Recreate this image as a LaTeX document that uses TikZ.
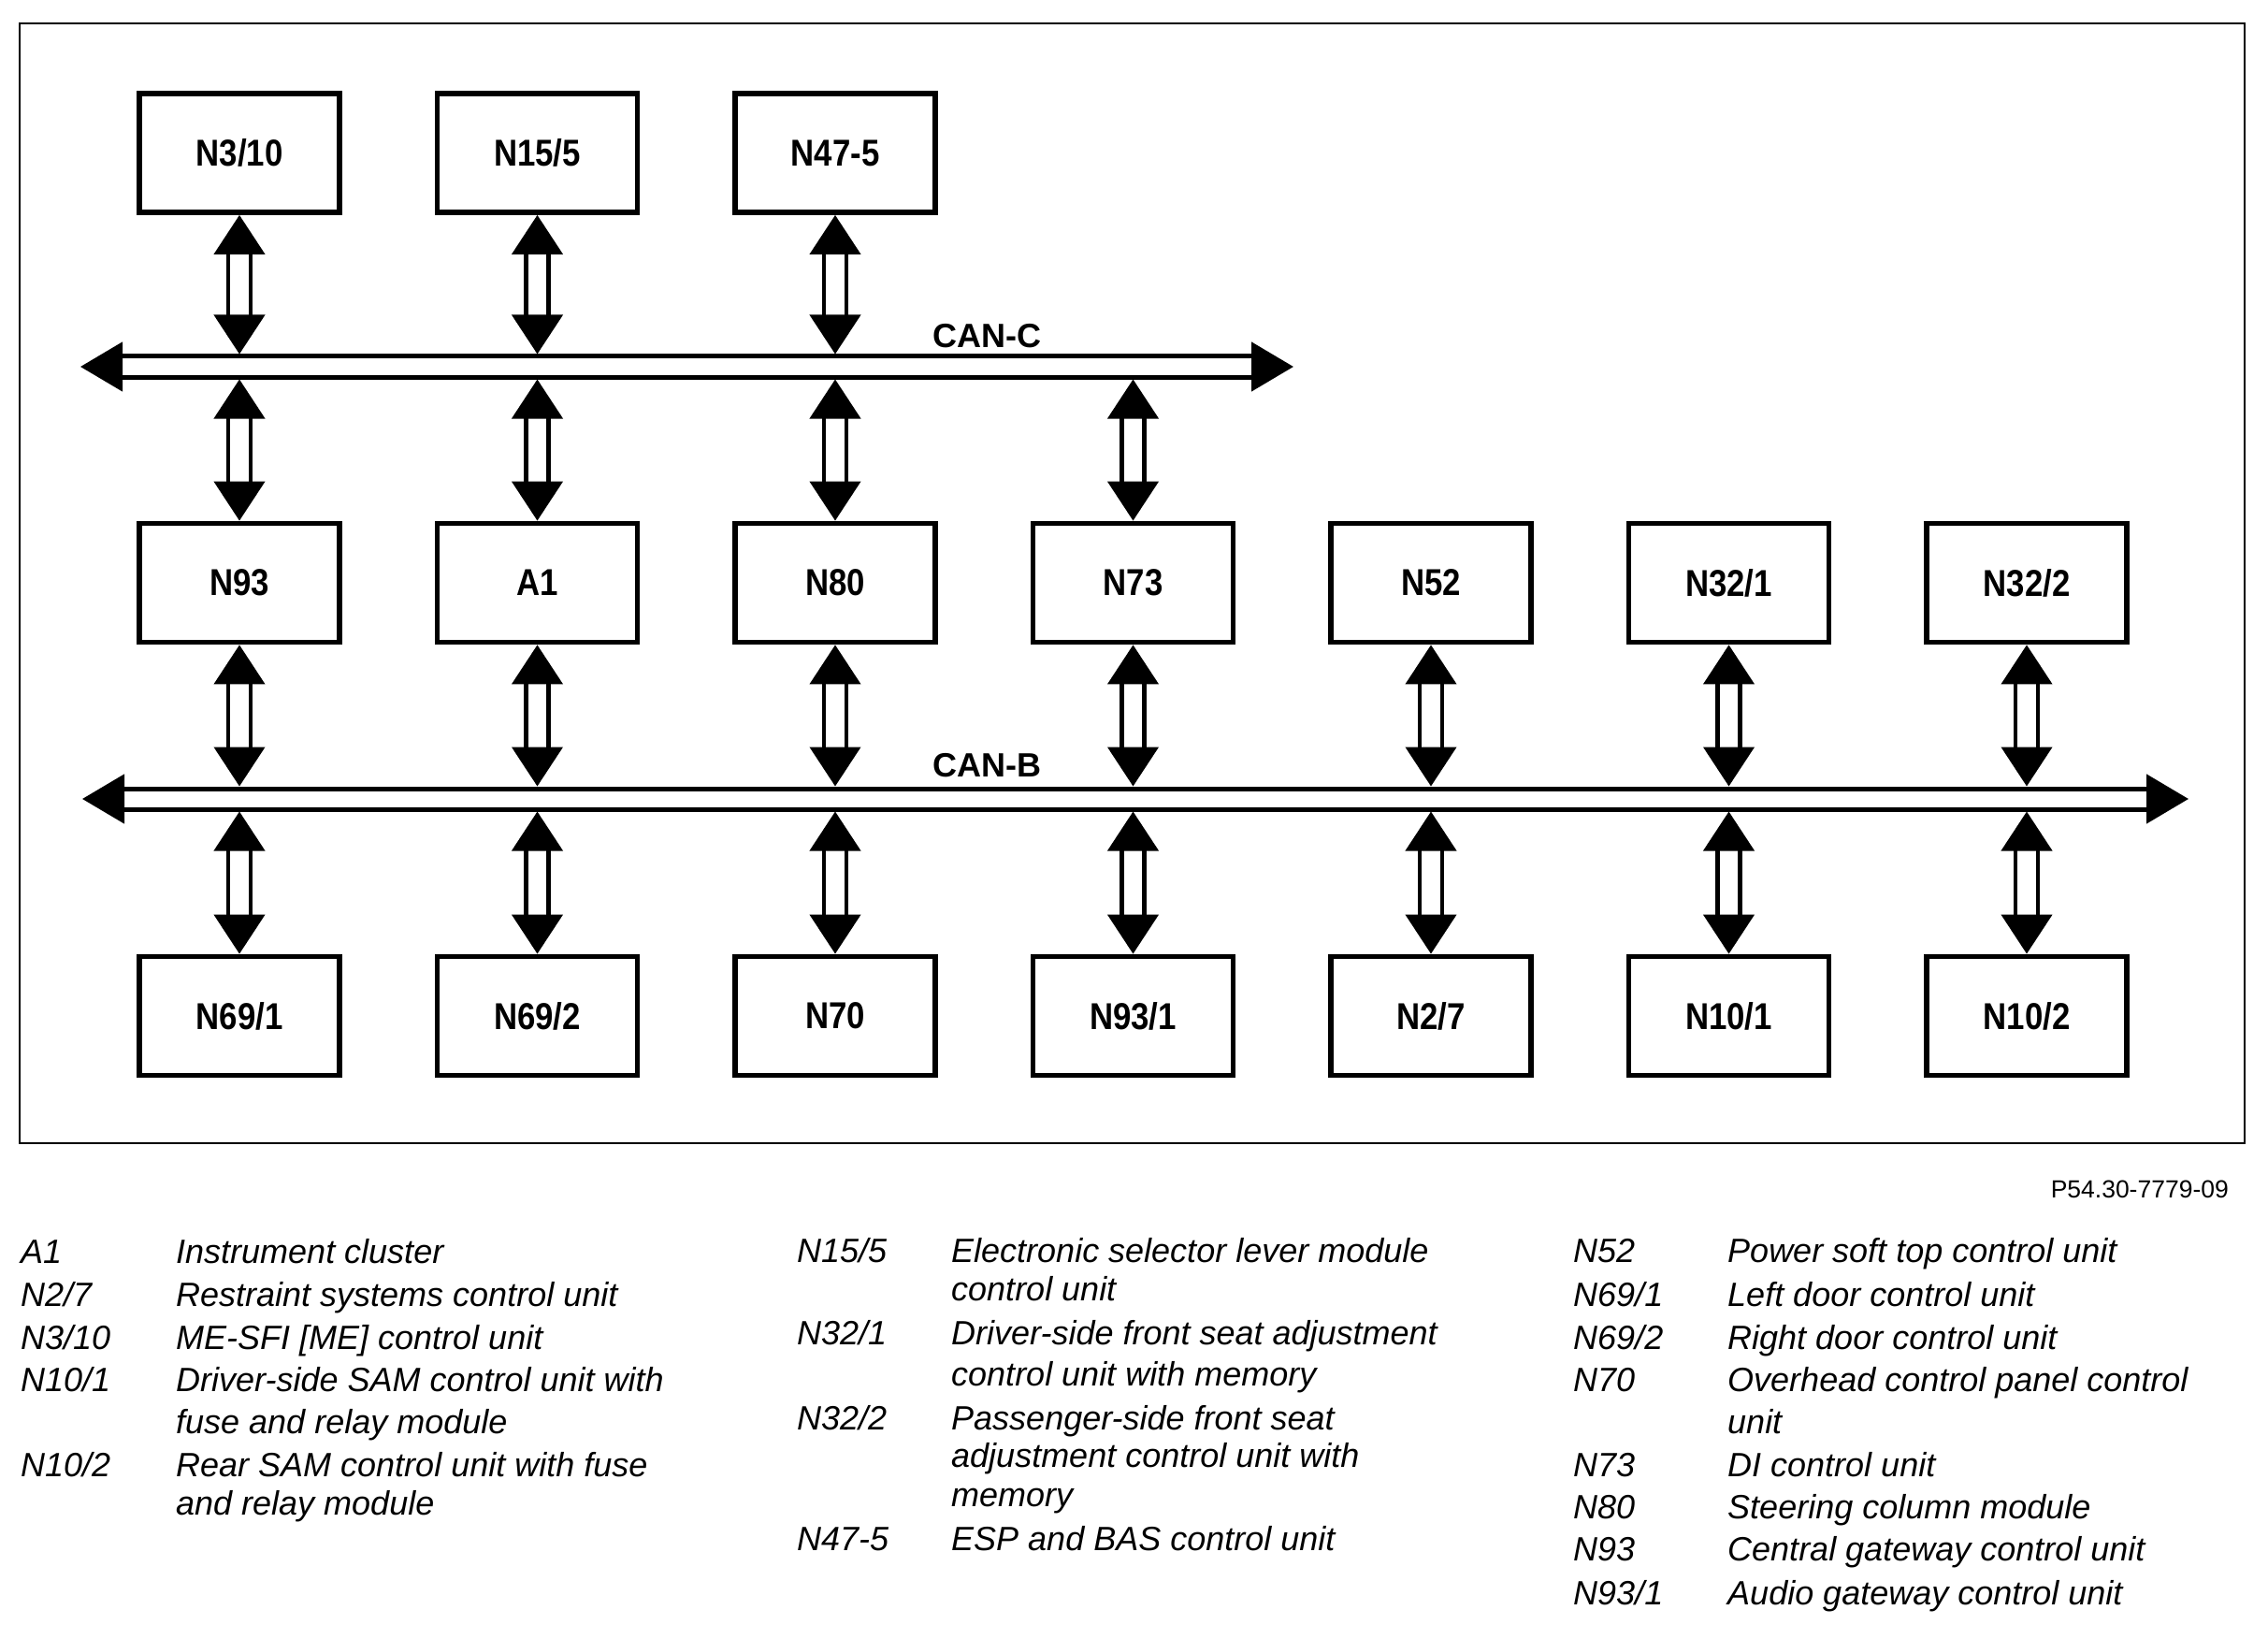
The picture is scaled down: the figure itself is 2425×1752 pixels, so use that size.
\documentclass[tikz,border=0pt]{standalone}
\usepackage{graphicx}
\usepackage{fontspec}
\setmainfont{Liberation Sans}
\usetikzlibrary{arrows.meta}
\newcommand\boxfont{\fontsize{40}{44}\selectfont\bfseries}
\newcommand\busfont{\fontsize{36}{40}\selectfont\bfseries}
\newcommand\legfont{\fontsize{36}{40}\selectfont\itshape}
\newcommand\bl[1]{\scalebox{0.87}[1]{#1}}
\begin{document}
\begin{tikzpicture}[x=1pt,y=-1pt,
  box/.style={draw, line width=5.8pt, minimum width=214pt, minimum height=127pt, inner sep=0pt, font=\boxfont},
  bus/.style={draw=black, line width=5pt, double=white, double distance=17pt,
    {Triangle[length=45pt,width=52pt]}-{Triangle[length=45pt,width=52pt]}},
  link/.style={draw=black, line width=4.5pt, double=white, double distance=19.5pt,
    {Triangle[length=42pt,width=54pt]}-{Triangle[length=42pt,width=54pt]}},
  leg/.style={anchor=base west, inner sep=0pt, font=\legfont},
  buslabel/.style={anchor=base west, inner sep=0pt, font=\busfont},
]
\useasboundingbox (0,0) rectangle (2425,1752);
\draw[line width=2pt] (20.5,25) rectangle (2400,1222);

% top row
\node[box] (n310) at (256,163.5) {\bl{N3/10}};
\node[box] (n155) at (574.5,163.5) {\bl{N15/5}};
\node[box] (n475) at (893,163.5) {\bl{N47-5}};
% middle row
\node[box] (n93) at (256,623) {\bl{N93}};
\node[box] (a1) at (574.5,623) {\bl{A1}};
\node[box] (n80) at (893,623) {\bl{N80}};
\node[box] (n73) at (1211.5,623) {\bl{N73}};
\node[box] (n52) at (1530,623) {\bl{N52}};
\node[box] (n321) at (1848.5,623) {\bl{N32/1}};
\node[box] (n322) at (2167,623) {\bl{N32/2}};
% bottom row
\node[box] (n691) at (256,1086) {\bl{N69/1}};
\node[box] (n692) at (574.5,1086) {\bl{N69/2}};
\node[box] (n70) at (893,1086) {\bl{N70}};
\node[box] (n931) at (1211.5,1086) {\bl{N93/1}};
\node[box] (n27) at (1530,1086) {\bl{N2/7}};
\node[box] (n101) at (1848.5,1086) {\bl{N10/1}};
\node[box] (n102) at (2167,1086) {\bl{N10/2}};

% buses
\coordinate (canCL) at (86,392);
\coordinate (canCR) at (1383,392);
\coordinate (canBL) at (88,854);
\coordinate (canBR) at (2340,854);
\coordinate (cCt) at (0,378.5);
\coordinate (cCb) at (0,405.5);
\coordinate (cBt) at (0,840.5);
\coordinate (cBb) at (0,867.5);
\draw[bus] (canCL) -- (canCR);
\draw[bus] (canBL) -- (canBR);
\node[buslabel] (lblC) at (997,372) {CAN-C};
\node[buslabel] (lblB) at (997,830) {CAN-B};

% links to CAN-C
\foreach \n in {n310,n155,n475}{
  \draw[link] (\n.south) -- (\n.south |- cCt);
}
\foreach \n in {n93,a1,n80,n73}{
  \draw[link] (\n.north |- cCb) -- (\n.north);
}
% links to CAN-B
\foreach \n in {n93,a1,n80,n73,n52,n321,n322}{
  \draw[link] (\n.south) -- (\n.south |- cBt);
}
\foreach \n in {n691,n692,n70,n931,n27,n101,n102}{
  \draw[link] (\n.north |- cBb) -- (\n.north);
}

% figure number
\node[anchor=base east, inner sep=0pt, font=\fontsize{26.5}{30}\selectfont] (fig) at (2383,1280) {P54.30-7779-09};

% legend left
\node[leg] (k1) at (22,1350) {A1};
\node[leg] (d1) at (188,1350) {Instrument cluster};
\node[leg] (k2) at (22,1396) {N2/7};
\node[leg] (d2) at (188,1396) {Restraint systems control unit};
\node[leg] (k3) at (22,1442) {N3/10};
\node[leg] (d3) at (188,1442) {ME-SFI [ME] control unit};
\node[leg] (k4) at (22,1487) {N10/1};
\node[leg] (d4) at (188,1487) {Driver-side SAM control unit with};
\node[leg] (d4b) at (188,1532) {fuse and relay module};
\node[leg] (k5) at (22,1578) {N10/2};
\node[leg] (d5) at (188,1578) {Rear SAM control unit with fuse};
\node[leg] (d5b) at (188,1619) {and relay module};
% legend middle
\node[leg] (k6) at (852,1349) {N15/5};
\node[leg] (d6) at (1017,1349) {Electronic selector lever module};
\node[leg] (d6b) at (1017,1390) {control unit};
\node[leg] (k7) at (852,1437) {N32/1};
\node[leg] (d7) at (1017,1437) {Driver-side front seat adjustment};
\node[leg] (d7b) at (1017,1481) {control unit with memory};
\node[leg] (k8) at (852,1528) {N32/2};
\node[leg] (d8) at (1017,1528) {Passenger-side front seat};
\node[leg] (d8b) at (1017,1568) {adjustment control unit with};
\node[leg] (d8c) at (1017,1610) {memory};
\node[leg] (k9) at (852,1657) {N47-5};
\node[leg] (d9) at (1017,1657) {ESP and BAS control unit};
% legend right
\node[leg] (k10) at (1682,1349) {N52};
\node[leg] (d10) at (1847,1349) {Power soft top control unit};
\node[leg] (k11) at (1682,1396) {N69/1};
\node[leg] (d11) at (1847,1396) {Left door control unit};
\node[leg] (k12) at (1682,1442) {N69/2};
\node[leg] (d12) at (1847,1442) {Right door control unit};
\node[leg] (k13) at (1682,1487) {N70};
\node[leg] (d13) at (1847,1487) {Overhead control panel control};
\node[leg] (d13b) at (1847,1532) {unit};
\node[leg] (k14) at (1682,1578) {N73};
\node[leg] (d14) at (1847,1578) {DI control unit};
\node[leg] (k15) at (1682,1623) {N80};
\node[leg] (d15) at (1847,1623) {Steering column module};
\node[leg] (k16) at (1682,1668) {N93};
\node[leg] (d16) at (1847,1668) {Central gateway control unit};
\node[leg] (k17) at (1682,1715) {N93/1};
\node[leg] (d17) at (1847,1715) {Audio gateway control unit};
\end{tikzpicture}
\end{document}
